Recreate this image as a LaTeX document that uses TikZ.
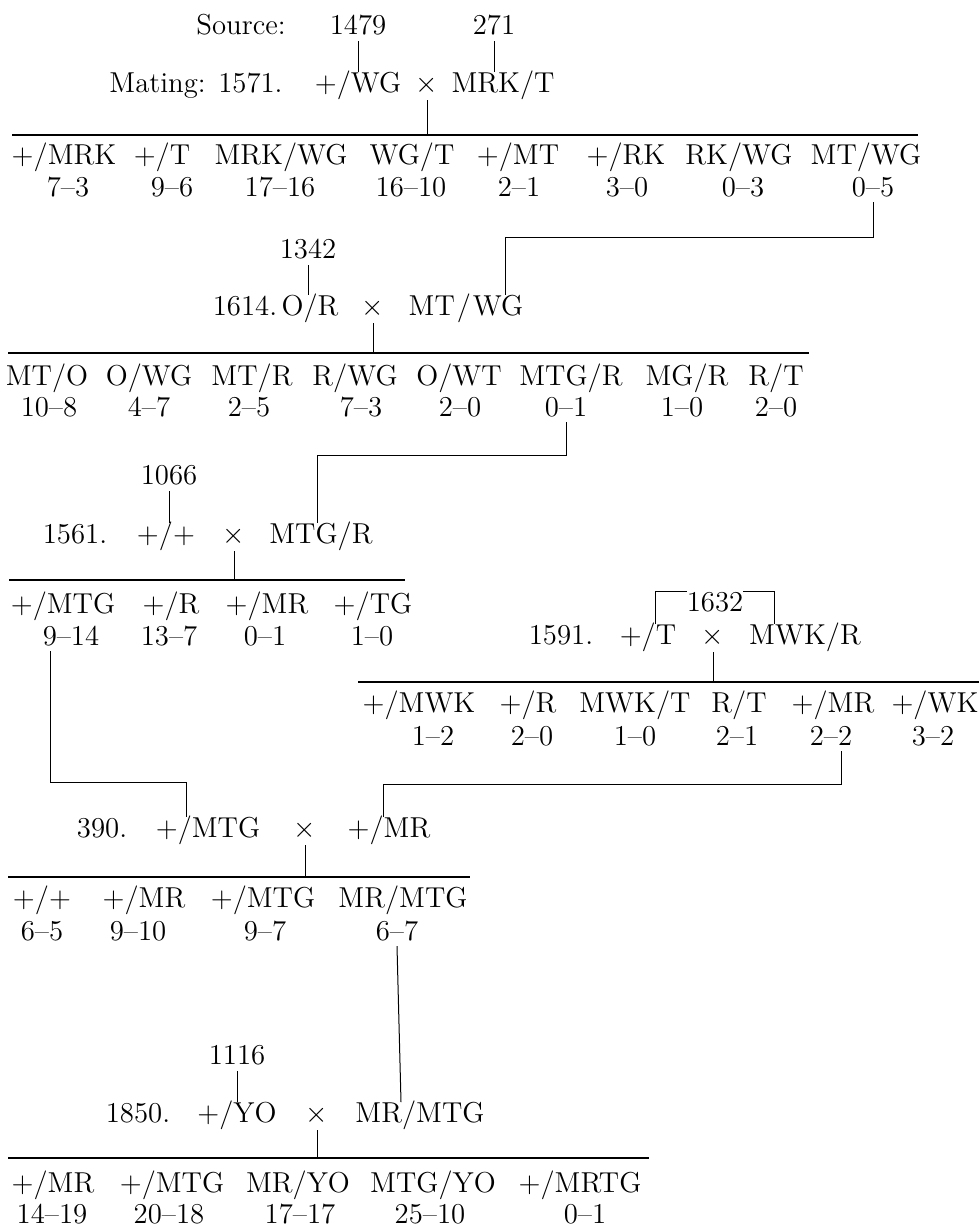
\documentclass[tikz,border=0pt]{standalone}
\usetikzlibrary{calc}

\begin{document}
\begin{tikzpicture}[x=0.5pt,y=-0.5pt]
				\tikzset{every node/.style={inner sep=0pt, outer sep=0pt, text height=10pt, text depth=0pt, font=\fontsize{14.4}{17}\selectfont},
					rule/.style={line width=0.9pt},
					link/.style={line width=0.5pt}}
				\useasboundingbox (0,0) rectangle (980,1228);
				
				%% MATING 1571
				\node[] (src) at (241,24) {Source:};
				\node[] (s1479) at (358,24) {1479};
				\node[] (s271) at (494,24) {271};
				\node[] (m1571) at (196,82) {Mating: 1571.};
				\node[] (m1571a) at (358,82) {+/WG};
				\node[] (x1571) at (427,82) {$\times$};
				\node[] (m1571b) at (503,82) {MRK/T};
				\draw[rule] (12,135) coordinate (rA) -- (918,135);
				\foreach \lx/\lab/\nx/\cnt [count=\i] in {64/{+/MRK}/68/{7\textendash3}, 162/{+/T}/172/{9\textendash6},
					281/{MRK/WG}/280/{17\textendash16}, 412/{WG/T}/411/{16\textendash10}, 518/{+/MT}/519/{2\textendash1},
					626/{+/RK}/627/{3\textendash0}, 739/{RK/WG}/743/{0\textendash3}, 866/{MT/WG}/873/{0\textendash5}} {
					\node[] (a\i) at (\lx,154) {\lab};
					\node[] (na\i) at (\nx,186) {\cnt};
				}
				\draw[link] ([yshift=-3.5pt]s1479.south) -- (s1479.south |- m1571a.north);
				\draw[link] ([yshift=-3.5pt]s271.south) -- (s271.south |- m1571b.north);
				\draw[link] ([yshift=-4pt]x1571.south) -- (x1571.south |- rA);
				
				%% MATING 1614
				\node[] (s1342) at (308,248) {1342};
				\node[] (m1614) at (245,305) {1614.};
				\node[] (m1614a) at (310,305) {O/R};
				\node[] (x1614) at (373,305) {$\times$};
				\node[] (m1614b) at (466,305) {MT\kern1pt/\kern1pt WG};
				\draw[rule] (8,353) coordinate (rB) -- (809,353);
				\foreach \lx/\lab/\nx/\cnt [count=\i] in {47/{MT/O}/49/{10\textendash8}, 149/{O/WG}/149/{4\textendash7},
					252/{MT/R}/249/{2\textendash5}, 355/{R/WG}/361/{7\textendash3}, 459/{O/WT}/460/{2\textendash0},
					571/{MTG/R}/566/{0\textendash1}, 687/{MG/R}/682/{1\textendash0}, 776/{R/T}/776/{2\textendash0}} {
					\node[] (b\i) at (\lx,375) {\lab};
					\node[] (nb\i) at (\nx,406) {\cnt};
				}
				\coordinate (jA) at (505,237);
				\draw[link] ([yshift=-3pt]na8.south) |- (jA) -- (jA |- m1614b.north);
				\draw[link] ([yshift=-3.5pt]s1342.south) -- (s1342.south |- m1614a.north);
				\draw[link] ([yshift=-4pt]x1614.south) -- (x1614.south |- rB);
				
				%% MATING 1561
				\node[] (s1066) at (169,474) {1066};
				\node[] (m1561) at (75,533) {1561.};
				\node[] (m1561a) at (166,533) {+/+};
				\node[] (x1561) at (234,533) {$\times$};
				\node[] (m1561b) at (321,533) {MTG/R};
				\draw[rule] (9,580) coordinate (rC) -- (405,580);
				\foreach \lx/\lab/\nx/\cnt [count=\i] in {63/{+/MTG}/71/{9\textendash14}, 171/{+/R}/169/{13\textendash7},
					267/{+/MR}/265/{0\textendash1}, 373/{+/TG}/372/{1\textendash0}} {
					\node[] (c\i) at (\lx,603) {\lab};
					\node[] (nc\i) at (\nx,635) {\cnt};
				}
				\coordinate (jB) at (317,455);
				\draw[link] ([yshift=-3pt]nb6.south) |- (jB) -- (jB |- m1561b.north);
				\draw[link] ([yshift=-3.5pt]s1066.south) -- (s1066.south |- m1561a.north);
				\draw[link] ([yshift=-4pt]x1561.south) -- (x1561.south |- rC);
				
				%% MATING 1591
				\node[] (s1632) at (715,601) {1632};
				\node[] (m1591) at (561,634) {1591.};
				\node[] (m1591a) at (648,634) {+/T};
				\node[] (x1591) at (713,634) {$\times$};
				\node[] (m1591b) at (805,634) {MWK/R};
				\draw[rule] (358,682) coordinate (rD) -- (979,682);
				\foreach \lx/\lab/\nx/\cnt [count=\i] in {419/{+/MWK}/433/{1\textendash2}, 528/{+/R}/532/{2\textendash0},
					635/{MWK/T}/635/{1\textendash0}, 739/{R/T}/737/{2\textendash1}, 833/{+/MR}/831/{2\textendash2},
					935/{+/WK}/933/{3\textendash2}} {
					\node[] (d\i) at (\lx,702) {\lab};
					\node[] (nd\i) at (\nx,735) {\cnt};
				}
				\draw[link] ([xshift=3.5pt]m1591a.north) |- (s1632.north west);
				\draw[link] (s1632.north east) -| ([xshift=-15.5pt]m1591b.north);
				\draw[link] ([yshift=-4pt]x1591.south) -- (x1591.south |- rD);
				
				%% MATING 390
				\node[] (m390) at (102,827) {390.};
				\node[] (m390a) at (208,827) {+/MTG};
				\node[] (x390) at (305,827) {$\times$};
				\node[] (m390b) at (389,827) {+/MR};
				\draw[rule] (8,877) coordinate (rE) -- (470,877);
				\foreach \lx/\lab/\nx/\cnt [count=\i] in {42/{+/+}/42/{6\textendash5}, 144/{+/MR}/138/{9\textendash10},
					263/{+/MTG}/265/{9\textendash7}, 403/{MR/MTG}/397/{6\textendash7}} {
					\node[] (e\i) at (\lx,897) {\lab};
					\node[] (ne\i) at (\nx,930) {\cnt};
				}
				\coordinate (jC) at (186,782);
				\coordinate (jD) at (383,784);
				\draw[link] ([xshift=-10.5pt,yshift=-3pt]nc1.south) |- (jC) -- (jC |- m390a.north);
				\draw[link] ([xshift=5pt,yshift=-3pt]nd5.south) |- (jD) -- (jD |- m390b.north);
				\draw[link] ([yshift=-4pt]x390.south) -- (x390.south |- rE);
				
				%% MATING 1850
				\node[] (s1116) at (237,1054) {1116};
				\node[] (m1850) at (138,1112) {1850.};
				\node[] (m1850a) at (237,1112) {+/YO};
				\node[] (x1850) at (317,1112) {$\times$};
				\node[] (m1850b) at (420,1112) {MR/MTG};
				\draw[rule] (8,1158) coordinate (rF) -- (649,1158);
				\foreach \lx/\lab/\nx/\cnt [count=\i] in {53/{+/MR}/52/{14\textendash19}, 172/{+/MTG}/169/{20\textendash18},
					298/{MR/YO}/300/{17\textendash17}, 433/{MTG/YO}/430/{25\textendash10}, 580/{+/MRTG}/585/{0\textendash1}} {
					\node[] (f\i) at (\lx,1182) {\lab};
					\node[] (nf\i) at (\nx,1213) {\cnt};
				}
				\draw[link] ([yshift=-3pt]ne4.south) -- ([xshift=-9.5pt]m1850b.north);
				\draw[link] ([yshift=-3.5pt]s1116.south) -- (s1116.south |- m1850a.north);
				\draw[link] ([yshift=-4pt]x1850.south) -- (x1850.south |- rF);
				
\end{tikzpicture}
\end{document}
